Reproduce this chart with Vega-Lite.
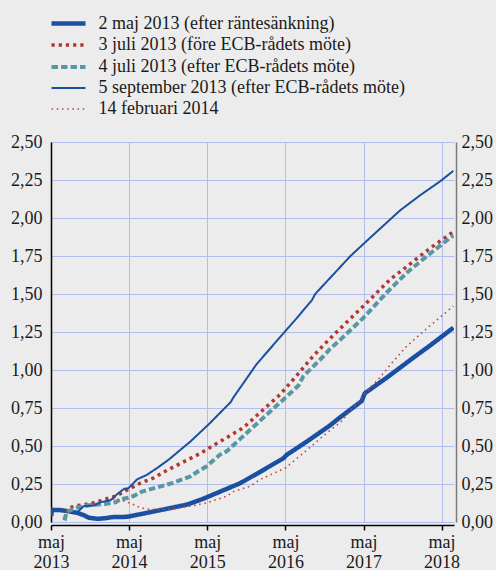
{
  "$schema": "https://vega.github.io/schema/vega-lite/v6.json",
  "width": 403,
  "height": 380,
  "autosize": {"type": "none"},
  "padding": {"left": 51, "top": 142, "right": 42, "bottom": 48},
  "background": "#ececec",
  "config": {
    "view": {"stroke": null},
    "font": "Liberation Serif",
    "axis": {"labelFont": "Liberation Serif", "labelFontSize": 18, "labelColor": "#1a1a1a", "title": null},
    "legend": {"labelFont": "Liberation Serif", "labelFontSize": 18, "labelColor": "#1a1a1a"}
  },
  "data": {
    "values": [
      {"s": "2 maj 2013 (efter räntesänkning)", "d": "2013-05-02", "v": 0.04},
      {"s": "2 maj 2013 (efter räntesänkning)", "d": "2013-05-05", "v": 0.08},
      {"s": "2 maj 2013 (efter räntesänkning)", "d": "2013-06-15", "v": 0.078},
      {"s": "2 maj 2013 (efter räntesänkning)", "d": "2013-07-15", "v": 0.072},
      {"s": "2 maj 2013 (efter räntesänkning)", "d": "2013-09-01", "v": 0.06},
      {"s": "2 maj 2013 (efter räntesänkning)", "d": "2013-10-01", "v": 0.045},
      {"s": "2 maj 2013 (efter räntesänkning)", "d": "2013-10-25", "v": 0.028},
      {"s": "2 maj 2013 (efter räntesänkning)", "d": "2013-12-03", "v": 0.021},
      {"s": "2 maj 2013 (efter räntesänkning)", "d": "2014-01-10", "v": 0.025},
      {"s": "2 maj 2013 (efter räntesänkning)", "d": "2014-02-10", "v": 0.032},
      {"s": "2 maj 2013 (efter räntesänkning)", "d": "2014-04-21", "v": 0.034},
      {"s": "2 maj 2013 (efter räntesänkning)", "d": "2014-07-23", "v": 0.06},
      {"s": "2 maj 2013 (efter räntesänkning)", "d": "2014-10-25", "v": 0.087},
      {"s": "2 maj 2013 (efter räntesänkning)", "d": "2015-01-28", "v": 0.115},
      {"s": "2 maj 2013 (efter räntesänkning)", "d": "2015-04-13", "v": 0.153},
      {"s": "2 maj 2013 (efter räntesänkning)", "d": "2015-07-01", "v": 0.2},
      {"s": "2 maj 2013 (efter räntesänkning)", "d": "2015-10-02", "v": 0.255},
      {"s": "2 maj 2013 (efter räntesänkning)", "d": "2016-01-04", "v": 0.33},
      {"s": "2 maj 2013 (efter räntesänkning)", "d": "2016-04-22", "v": 0.42},
      {"s": "2 maj 2013 (efter räntesänkning)", "d": "2016-05-05", "v": 0.44},
      {"s": "2 maj 2013 (efter räntesänkning)", "d": "2016-08-10", "v": 0.53},
      {"s": "2 maj 2013 (efter räntesänkning)", "d": "2016-11-27", "v": 0.637},
      {"s": "2 maj 2013 (efter räntesänkning)", "d": "2017-01-13", "v": 0.69},
      {"s": "2 maj 2013 (efter räntesänkning)", "d": "2017-04-22", "v": 0.795},
      {"s": "2 maj 2013 (efter räntesänkning)", "d": "2017-05-07", "v": 0.847},
      {"s": "2 maj 2013 (efter räntesänkning)", "d": "2017-08-18", "v": 0.95},
      {"s": "2 maj 2013 (efter räntesänkning)", "d": "2017-12-19", "v": 1.08},
      {"s": "2 maj 2013 (efter räntesänkning)", "d": "2018-03-07", "v": 1.16},
      {"s": "2 maj 2013 (efter räntesänkning)", "d": "2018-06-25", "v": 1.278},

      {"s": "3 juli 2013 (före ECB-rådets möte)", "d": "2013-07-02", "v": 0.016},
      {"s": "3 juli 2013 (före ECB-rådets möte)", "d": "2013-07-22", "v": 0.093},
      {"s": "3 juli 2013 (före ECB-rådets möte)", "d": "2013-09-01", "v": 0.108},
      {"s": "3 juli 2013 (före ECB-rådets möte)", "d": "2013-11-02", "v": 0.12},
      {"s": "3 juli 2013 (före ECB-rådets möte)", "d": "2014-01-10", "v": 0.15},
      {"s": "3 juli 2013 (före ECB-rådets möte)", "d": "2014-02-27", "v": 0.17},
      {"s": "3 juli 2013 (före ECB-rådets möte)", "d": "2014-04-28", "v": 0.215},
      {"s": "3 juli 2013 (före ECB-rådets möte)", "d": "2014-06-22", "v": 0.255},
      {"s": "3 juli 2013 (före ECB-rådets möte)", "d": "2014-08-24", "v": 0.29},
      {"s": "3 juli 2013 (före ECB-rådets möte)", "d": "2014-10-25", "v": 0.34},
      {"s": "3 juli 2013 (före ECB-rådets möte)", "d": "2014-12-27", "v": 0.385},
      {"s": "3 juli 2013 (före ECB-rådets möte)", "d": "2015-03-28", "v": 0.45},
      {"s": "3 juli 2013 (före ECB-rådets möte)", "d": "2015-07-01", "v": 0.53},
      {"s": "3 juli 2013 (före ECB-rådets möte)", "d": "2015-10-17", "v": 0.62},
      {"s": "3 juli 2013 (före ECB-rådets möte)", "d": "2016-01-19", "v": 0.74},
      {"s": "3 juli 2013 (före ECB-rådets möte)", "d": "2016-04-07", "v": 0.84},
      {"s": "3 juli 2013 (före ECB-rådets möte)", "d": "2016-07-09", "v": 0.99},
      {"s": "3 juli 2013 (före ECB-rådets möte)", "d": "2016-08-25", "v": 1.07},
      {"s": "3 juli 2013 (före ECB-rådets möte)", "d": "2016-10-10", "v": 1.14},
      {"s": "3 juli 2013 (före ECB-rådets möte)", "d": "2016-12-19", "v": 1.24},
      {"s": "3 juli 2013 (före ECB-rådets möte)", "d": "2017-04-30", "v": 1.42},
      {"s": "3 juli 2013 (före ECB-rådets möte)", "d": "2017-09-02", "v": 1.595},
      {"s": "3 juli 2013 (före ECB-rådets möte)", "d": "2017-11-19", "v": 1.68},
      {"s": "3 juli 2013 (före ECB-rådets möte)", "d": "2018-03-07", "v": 1.8},
      {"s": "3 juli 2013 (före ECB-rådets möte)", "d": "2018-06-01", "v": 1.885},
      {"s": "3 juli 2013 (före ECB-rådets möte)", "d": "2018-06-25", "v": 1.91},

      {"s": "4 juli 2013 (efter ECB-rådets möte)", "d": "2013-07-04", "v": 0.01},
      {"s": "4 juli 2013 (efter ECB-rådets möte)", "d": "2013-07-12", "v": 0.065},
      {"s": "4 juli 2013 (efter ECB-rådets möte)", "d": "2013-08-25", "v": 0.093},
      {"s": "4 juli 2013 (efter ECB-rådets möte)", "d": "2013-11-02", "v": 0.112},
      {"s": "4 juli 2013 (efter ECB-rådets möte)", "d": "2014-01-10", "v": 0.118},
      {"s": "4 juli 2013 (efter ECB-rådets möte)", "d": "2014-02-27", "v": 0.13},
      {"s": "4 juli 2013 (efter ECB-rådets möte)", "d": "2014-03-20", "v": 0.148},
      {"s": "4 juli 2013 (efter ECB-rådets möte)", "d": "2014-04-28", "v": 0.16},
      {"s": "4 juli 2013 (efter ECB-rådets möte)", "d": "2014-05-21", "v": 0.17},
      {"s": "4 juli 2013 (efter ECB-rådets möte)", "d": "2014-06-30", "v": 0.2},
      {"s": "4 juli 2013 (efter ECB-rådets möte)", "d": "2014-09-09", "v": 0.228},
      {"s": "4 juli 2013 (efter ECB-rådets möte)", "d": "2014-11-25", "v": 0.258},
      {"s": "4 juli 2013 (efter ECB-rådets möte)", "d": "2015-01-04", "v": 0.28},
      {"s": "4 juli 2013 (efter ECB-rådets möte)", "d": "2015-02-12", "v": 0.3},
      {"s": "4 juli 2013 (efter ECB-rådets möte)", "d": "2015-03-20", "v": 0.334},
      {"s": "4 juli 2013 (efter ECB-rådets möte)", "d": "2015-04-29", "v": 0.367},
      {"s": "4 juli 2013 (efter ECB-rådets möte)", "d": "2015-07-01", "v": 0.444},
      {"s": "4 juli 2013 (efter ECB-rådets möte)", "d": "2015-08-01", "v": 0.466},
      {"s": "4 juli 2013 (efter ECB-rådets möte)", "d": "2015-10-17", "v": 0.565},
      {"s": "4 juli 2013 (efter ECB-rådets möte)", "d": "2016-02-04", "v": 0.707},
      {"s": "4 juli 2013 (efter ECB-rådets möte)", "d": "2016-04-22", "v": 0.806},
      {"s": "4 juli 2013 (efter ECB-rådets möte)", "d": "2016-07-01", "v": 0.898},
      {"s": "4 juli 2013 (efter ECB-rådets möte)", "d": "2016-07-24", "v": 0.96},
      {"s": "4 juli 2013 (efter ECB-rådets möte)", "d": "2016-10-03", "v": 1.058},
      {"s": "4 juli 2013 (efter ECB-rådets möte)", "d": "2016-11-27", "v": 1.14},
      {"s": "4 juli 2013 (efter ECB-rådets möte)", "d": "2017-01-13", "v": 1.2},
      {"s": "4 juli 2013 (efter ECB-rådets möte)", "d": "2017-04-30", "v": 1.343},
      {"s": "4 juli 2013 (efter ECB-rådets möte)", "d": "2017-08-18", "v": 1.51},
      {"s": "4 juli 2013 (efter ECB-rådets möte)", "d": "2017-11-19", "v": 1.64},
      {"s": "4 juli 2013 (efter ECB-rådets möte)", "d": "2018-02-22", "v": 1.75},
      {"s": "4 juli 2013 (efter ECB-rådets möte)", "d": "2018-06-16", "v": 1.876},
      {"s": "4 juli 2013 (efter ECB-rådets möte)", "d": "2018-06-25", "v": 1.885},

      {"s": "5 september 2013 (efter ECB-rådets möte)", "d": "2013-09-05", "v": 0.07},
      {"s": "5 september 2013 (efter ECB-rådets möte)", "d": "2013-10-01", "v": 0.104},
      {"s": "5 september 2013 (efter ECB-rådets möte)", "d": "2013-11-17", "v": 0.108},
      {"s": "5 september 2013 (efter ECB-rådets möte)", "d": "2013-12-18", "v": 0.13},
      {"s": "5 september 2013 (efter ECB-rådets möte)", "d": "2014-02-03", "v": 0.143},
      {"s": "5 september 2013 (efter ECB-rådets möte)", "d": "2014-03-12", "v": 0.19},
      {"s": "5 september 2013 (efter ECB-rådets möte)", "d": "2014-04-08", "v": 0.218},
      {"s": "5 september 2013 (efter ECB-rådets möte)", "d": "2014-04-28", "v": 0.222},
      {"s": "5 september 2013 (efter ECB-rådets möte)", "d": "2014-06-07", "v": 0.28},
      {"s": "5 september 2013 (efter ECB-rådets möte)", "d": "2014-07-23", "v": 0.31},
      {"s": "5 september 2013 (efter ECB-rådets möte)", "d": "2014-09-09", "v": 0.355},
      {"s": "5 september 2013 (efter ECB-rådets möte)", "d": "2014-11-02", "v": 0.41},
      {"s": "5 september 2013 (efter ECB-rådets möte)", "d": "2015-02-12", "v": 0.53},
      {"s": "5 september 2013 (efter ECB-rådets möte)", "d": "2015-05-10", "v": 0.645},
      {"s": "5 september 2013 (efter ECB-rådets möte)", "d": "2015-08-20", "v": 0.79},
      {"s": "5 september 2013 (efter ECB-rådets möte)", "d": "2015-09-01", "v": 0.82},
      {"s": "5 september 2013 (efter ECB-rådets möte)", "d": "2015-12-19", "v": 1.04},
      {"s": "5 september 2013 (efter ECB-rådets möte)", "d": "2016-04-30", "v": 1.255},
      {"s": "5 september 2013 (efter ECB-rådets möte)", "d": "2016-06-16", "v": 1.33},
      {"s": "5 september 2013 (efter ECB-rådets möte)", "d": "2016-09-02", "v": 1.46},
      {"s": "5 september 2013 (efter ECB-rådets möte)", "d": "2016-09-17", "v": 1.5},
      {"s": "5 september 2013 (efter ECB-rådets möte)", "d": "2017-03-01", "v": 1.75},
      {"s": "5 september 2013 (efter ECB-rådets möte)", "d": "2017-06-01", "v": 1.87},
      {"s": "5 september 2013 (efter ECB-rådets möte)", "d": "2017-09-10", "v": 2.0},
      {"s": "5 september 2013 (efter ECB-rådets möte)", "d": "2017-10-19", "v": 2.05},
      {"s": "5 september 2013 (efter ECB-rådets möte)", "d": "2018-01-21", "v": 2.15},
      {"s": "5 september 2013 (efter ECB-rådets möte)", "d": "2018-04-23", "v": 2.24},
      {"s": "5 september 2013 (efter ECB-rådets möte)", "d": "2018-06-25", "v": 2.31},

      {"s": "14 februari 2014", "d": "2014-02-14", "v": 0.15},
      {"s": "14 februari 2014", "d": "2014-03-20", "v": 0.146},
      {"s": "14 februari 2014", "d": "2014-05-13", "v": 0.12},
      {"s": "14 februari 2014", "d": "2014-06-22", "v": 0.095},
      {"s": "14 februari 2014", "d": "2014-07-23", "v": 0.085},
      {"s": "14 februari 2014", "d": "2014-09-09", "v": 0.082},
      {"s": "14 februari 2014", "d": "2014-11-25", "v": 0.087},
      {"s": "14 februari 2014", "d": "2015-02-26", "v": 0.108},
      {"s": "14 februari 2014", "d": "2015-04-29", "v": 0.126},
      {"s": "14 februari 2014", "d": "2015-08-01", "v": 0.17},
      {"s": "14 februari 2014", "d": "2015-09-01", "v": 0.2},
      {"s": "14 februari 2014", "d": "2015-11-18", "v": 0.235},
      {"s": "14 februari 2014", "d": "2016-01-04", "v": 0.28},
      {"s": "14 februari 2014", "d": "2016-05-01", "v": 0.355},
      {"s": "14 februari 2014", "d": "2016-08-10", "v": 0.474},
      {"s": "14 februari 2014", "d": "2016-11-11", "v": 0.587},
      {"s": "14 februari 2014", "d": "2017-01-13", "v": 0.655},
      {"s": "14 februari 2014", "d": "2017-04-06", "v": 0.79},
      {"s": "14 februari 2014", "d": "2017-04-30", "v": 0.835},
      {"s": "14 februari 2014", "d": "2017-07-16", "v": 0.95},
      {"s": "14 februari 2014", "d": "2017-09-19", "v": 1.06},
      {"s": "14 februari 2014", "d": "2017-11-19", "v": 1.157},
      {"s": "14 februari 2014", "d": "2018-03-07", "v": 1.29},
      {"s": "14 februari 2014", "d": "2018-06-25", "v": 1.42}
    ]
  },
  "encoding": {
    "x": {
      "field": "d",
      "type": "temporal",
      "scale": {"type": "utc", "domain": [{"year": 2013, "month": 5, "date": 1, "utc": true}, {"year": 2018, "month": 6, "date": 28, "utc": true}]},
      "axis": {
        "values": [
          {"year": 2013, "month": 5, "date": 1, "utc": true},
          {"year": 2014, "month": 5, "date": 1, "utc": true},
          {"year": 2015, "month": 5, "date": 1, "utc": true},
          {"year": 2016, "month": 5, "date": 1, "utc": true},
          {"year": 2017, "month": 5, "date": 1, "utc": true},
          {"year": 2018, "month": 5, "date": 1, "utc": true}
        ],
        "labelExpr": "['maj', utcFormat(datum.value, '%Y')]",
        "labelLineHeight": 20,
        "labelFlush": false,
        "labelOverlap": false,
        "labelPadding": 3,
        "grid": true,
        "gridColor": "#b1bdea",
        "gridWidth": 1,
        "domainColor": "#000000",
        "domainWidth": 1.5,
        "tickColor": "#000000",
        "tickWidth": 1.5,
        "tickSize": 5,
        "offset": 3
      }
    }
  },
  "layer": [
    {
      "mark": {"type": "line", "strokeCap": "butt", "strokeJoin": "round", "clip": true},
      "encoding": {
        "y": {
          "field": "v",
          "type": "quantitative",
          "scale": {"domain": [0, 2.5]},
          "axis": {
            "orient": "left",
            "values": [0, 0.25, 0.5, 0.75, 1, 1.25, 1.5, 1.75, 2, 2.25, 2.5],
            "labelExpr": "replace(format(datum.value, '.2f'), '.', ',')",
            "grid": true,
            "gridColor": "#b1bdea",
            "gridWidth": 1,
            "ticks": false,
            "domainColor": "#000000",
            "domainWidth": 1.5,
            "labelPadding": 9
          }
        },
        "color": {
          "field": "s",
          "type": "nominal",
          "scale": {
            "domain": ["2 maj 2013 (efter räntesänkning)", "3 juli 2013 (före ECB-rådets möte)", "4 juli 2013 (efter ECB-rådets möte)", "5 september 2013 (efter ECB-rådets möte)", "14 februari 2014"],
            "range": ["#1b4fa1", "#b3362f", "#5997a5", "#1b4fa1", "#c04a40"]
          },
          "legend": {
            "title": null,
            "orient": "none",
            "legendX": 6.5,
            "legendY": -129.5,
            "direction": "vertical",
            "symbolType": "M-2,0H2",
            "symbolSize": 289,
            "labelOffset": 19,
            "labelLimit": 0,
            "rowPadding": 2,
            "padding": 0
          }
        },
        "strokeDash": {
          "field": "s",
          "type": "nominal",
          "scale": {
            "domain": ["2 maj 2013 (efter räntesänkning)", "3 juli 2013 (före ECB-rådets möte)", "4 juli 2013 (efter ECB-rådets möte)", "5 september 2013 (efter ECB-rådets möte)", "14 februari 2014"],
            "range": [[1, 0], [3.2, 4], [6.5, 3], [1, 0], [1.6, 3.6]]
          }
        },
        "strokeWidth": {
          "field": "s",
          "type": "nominal",
          "scale": {
            "type": "ordinal",
            "domain": ["2 maj 2013 (efter räntesänkning)", "3 juli 2013 (före ECB-rådets möte)", "4 juli 2013 (efter ECB-rådets möte)", "5 september 2013 (efter ECB-rådets möte)", "14 februari 2014"],
            "range": [4.5, 3.5, 4, 2, 1.6]
          }
        }
      }
    },
    {
      "mark": {"type": "line", "opacity": 0},
      "encoding": {
        "y": {
          "field": "v",
          "type": "quantitative",
          "scale": {"domain": [0, 2.5]},
          "axis": {
            "orient": "right",
            "values": [0, 0.25, 0.5, 0.75, 1, 1.25, 1.5, 1.75, 2, 2.25, 2.5],
            "labelExpr": "replace(format(datum.value, '.2f'), '.', ',')",
            "grid": false,
            "ticks": false,
            "domainColor": "#7a7a7a",
            "domainWidth": 1.5,
            "offset": 2,
            "labelPadding": 5
          }
        },
        "detail": {"field": "s", "type": "nominal"}
      }
    }
  ],
  "resolve": {"scale": {"y": "independent"}, "axis": {"y": "independent"}}
}
